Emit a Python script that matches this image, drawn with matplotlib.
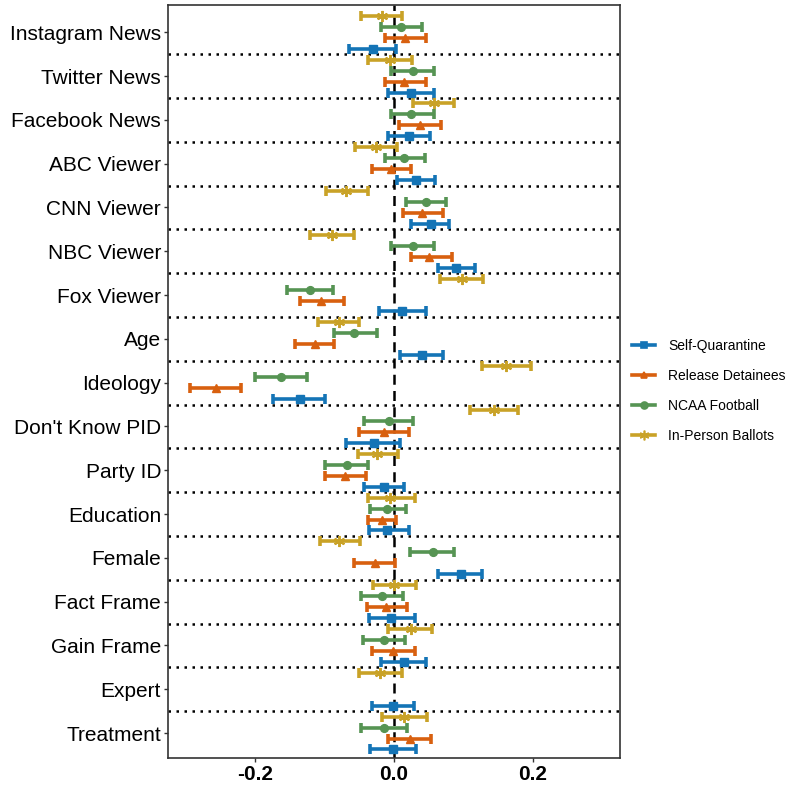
import numpy as np
import matplotlib
matplotlib.use('Agg')
import matplotlib.pyplot as plt
from matplotlib.lines import Line2D

plt.rcParams['font.family'] = ['Liberation Sans', 'DejaVu Sans']

nan = np.nan

# categories, top to bottom
labels = ['Instagram News', 'Twitter News', 'Facebook News', 'ABC Viewer',
          'CNN Viewer', 'NBC Viewer', 'Fox Viewer', 'Age', 'Ideology',
          "Don't Know PID", 'Party ID', 'Education', 'Female', 'Fact Frame',
          'Gain Frame', 'Expert', 'Treatment']

# estimates and 95% bounds
quar_est = [-0.031, 0.024, 0.022, 0.031, 0.053, 0.089, 0.012, 0.040, -0.136,
            -0.029, -0.015, -0.010, 0.097, -0.004, 0.014, -0.002, -0.002]
quar_lo = [-0.065, -0.009, -0.009, 0.004, 0.024, 0.064, -0.022, 0.009, -0.174,
           -0.069, -0.044, -0.036, 0.063, -0.036, -0.019, -0.032, -0.034]
quar_hi = [0.003, 0.057, 0.052, 0.059, 0.080, 0.117, 0.046, 0.070, -0.100,
           0.009, 0.014, 0.021, 0.127, 0.030, 0.046, 0.029, 0.032]

rel_est = [0.016, 0.015, 0.037, -0.005, 0.041, 0.051, -0.105, -0.114, -0.257,
           -0.014, -0.071, -0.018, -0.028, -0.012, -0.001, nan, 0.023]
rel_lo = [-0.013, -0.013, 0.007, -0.032, 0.013, 0.025, -0.135, -0.143, -0.294,
          -0.050, -0.099, -0.038, -0.057, -0.039, -0.032, nan, -0.009]
rel_hi = [0.046, 0.046, 0.068, 0.024, 0.071, 0.083, -0.072, -0.086, -0.221,
          0.022, -0.041, 0.003, 0.001, 0.018, 0.030, nan, 0.054]

ncaa_est = [0.010, 0.028, 0.025, 0.015, 0.046, 0.028, -0.121, -0.057, -0.163,
            -0.007, -0.068, -0.010, 0.056, -0.018, -0.015, nan, -0.014]
ncaa_lo = [-0.019, -0.004, -0.005, -0.013, 0.017, -0.005, -0.155, -0.086, -0.201,
           -0.044, -0.100, -0.035, 0.023, -0.048, -0.045, nan, -0.048]
ncaa_hi = [0.041, 0.058, 0.057, 0.045, 0.075, 0.057, -0.088, -0.025, -0.125,
           0.028, -0.038, 0.017, 0.086, 0.013, 0.016, nan, 0.018]

ballot_est = [-0.018, -0.006, 0.057, -0.026, -0.069, -0.089, 0.098, -0.080, 0.162,
              0.144, -0.024, -0.006, -0.079, 0.000, 0.024, -0.020, 0.014]
ballot_lo = [-0.047, -0.037, 0.028, -0.056, -0.098, -0.121, 0.067, -0.110, 0.127,
             0.109, -0.052, -0.038, -0.107, -0.031, -0.008, -0.051, -0.018]
ballot_hi = [0.011, 0.026, 0.086, 0.005, -0.038, -0.057, 0.129, -0.050, 0.197,
             0.179, 0.006, 0.030, -0.049, 0.032, 0.055, 0.012, 0.047]

series = [
    ('Self-Quarantine', quar_est, quar_lo, quar_hi, '#1474B6', 's', 0.375),
    ('Release Detainees', rel_est, rel_lo, rel_hi, '#D8600F', '^', 0.125),
    ('NCAA Football', ncaa_est, ncaa_lo, ncaa_hi, '#569453', 'o', -0.125),
    ('In-Person Ballots', ballot_est, ballot_lo, ballot_hi, '#C9A227', (6, 2, 0), -0.375),
]

fig = plt.figure(figsize=(7.96, 7.90), dpi=100)
ax = fig.add_axes([0.211, 0.0405, 0.568, 0.953])

ypos = np.arange(len(labels))
handles = []
for name, est, lo, hi, col, mk, off in series:
    est = np.array(est)
    err = np.vstack([est - np.array(lo), np.array(hi) - est])
    ax.errorbar(est, ypos + off, xerr=err, fmt='none', ecolor=col,
                elinewidth=2.6, capsize=3.6, capthick=2.6, zorder=3)
    star = mk == (6, 2, 0)
    ax.plot(est, ypos + off, linestyle='none', marker=mk, color=col,
            markersize=8 if star else 5.6,
            markeredgewidth=1.4 if star else 1.0, zorder=4)
    handles.append(Line2D([0], [0], color=col, lw=2.6, marker=mk,
                          markersize=7 if star else 5, markeredgewidth=1.2,
                          label=name))

# separators between categories
for i in range(len(labels) - 1):
    ax.axhline(i + 0.5, color='black', linestyle=(0, (1, 2.2)), lw=1.8, zorder=1)
ax.axvline(0, color='black', linestyle=(0, (4, 2.5)), lw=1.8, zorder=2)

ax.set_xlim(-0.326, 0.326)
ax.set_ylim(len(labels) - 1 + 0.57, -0.62)
ax.set_yticks(ypos)
ax.set_yticklabels(labels, fontsize=15)
ax.set_xticks([-0.2, 0.0, 0.2])
ax.set_xticklabels(['-0.2', '0.0', '0.2'], fontsize=15, fontweight='bold')
ax.tick_params(length=3, width=1, color='#333333', pad=2)

for sp in ax.spines.values():
    sp.set_color('#333333')
    sp.set_linewidth(1.2)

fig.legend(handles=handles, loc='center left',
           bbox_to_anchor=(0.778, 0.505), frameon=False, fontsize=10,
           handlelength=1.7, handletextpad=0.9, labelspacing=1.15)

fig.savefig('out.png', dpi=100)
